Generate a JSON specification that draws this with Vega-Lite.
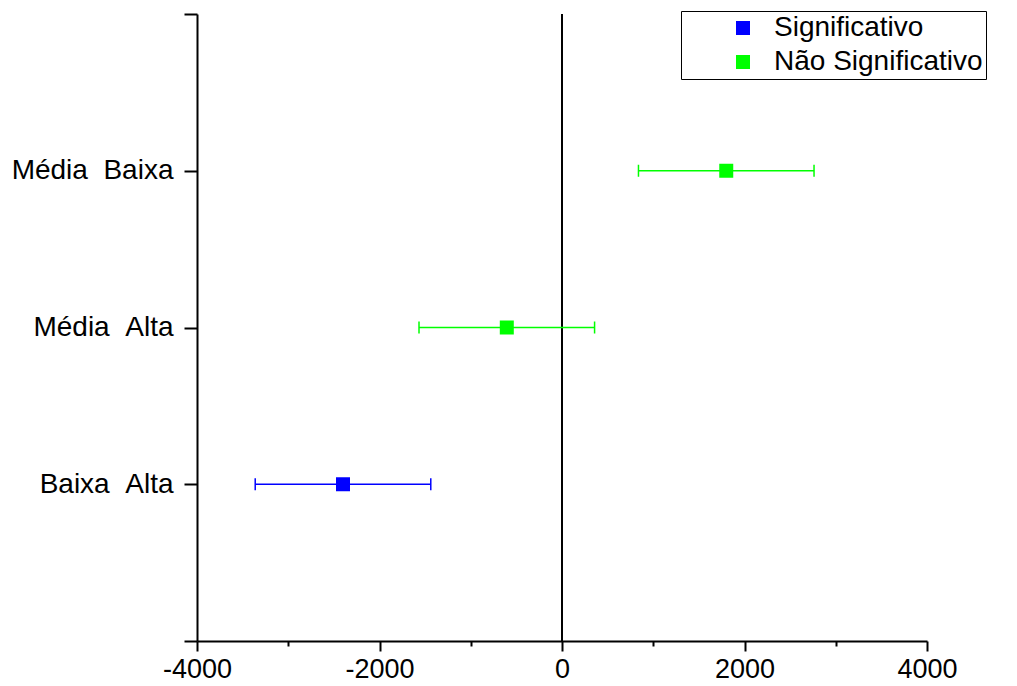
{
  "$schema": "https://vega.github.io/schema/vega-lite/v6.json",
  "autosize": {"type": "none"},
  "padding": {"left": 197, "top": 14, "right": 90, "bottom": 45},
  "width": 730,
  "height": 627,
  "background": "white",
  "config": {
    "view": {"stroke": null},
    "font": "Liberation Sans",
    "axis": {"grid": false, "domainColor": "black", "domainWidth": 2, "tickColor": "black", "tickWidth": 2, "labelColor": "black", "labelFont": "Liberation Sans", "labelFontSize": 27, "title": null}
  },
  "data": {"values": [
    {"grupo": "Média Baixa", "media": 1800, "lo": 838, "hi": 2762, "sig": "Não Significativo"},
    {"grupo": "Média Alta", "media": -605, "lo": -1567, "hi": 357, "sig": "Não Significativo"},
    {"grupo": "Baixa Alta", "media": -2400, "lo": -3362, "hi": -1438, "sig": "Significativo"}
  ]},
  "encoding": {
    "y": {"field": "grupo", "type": "nominal",
      "scale": {"type": "point", "domain": ["", "Média Baixa", "Média Alta", "Baixa Alta", " "], "padding": 0},
      "axis": {"tickSize": 13, "labelPadding": 11, "labelFontSize": 28, "labelExpr": "replace(datum.label, ' ', '\u00a0\u00a0')"}},
    "color": {"field": "sig", "type": "nominal",
      "scale": {"domain": ["Significativo", "Não Significativo"], "range": ["#0000ff", "#00ff00"]},
      "legend": {"orient": "none", "legendX": 484, "legendY": -3, "title": null,
        "strokeColor": "black", "fillColor": "white", "padding": 3,
        "symbolOffset": 45, "labelOffset": 17, "rowPadding": 6,
        "labelFontSize": 28, "labelFont": "Liberation Sans", "labelColor": "black", "labelLimit": 400,
        "symbolType": "square", "symbolSize": 196, "symbolStrokeWidth": 0, "symbolOpacity": 1,
        "labelExpr": "datum.label == 'Significativo' ? datum.label : '\\u00a0' + datum.label + '\\u00a0\\u00a0\\u00a0\\u00a0'"}}
  },
  "layer": [
    {
      "mark": {"type": "rule", "strokeWidth": 2},
      "encoding": {"x": {"datum": 0, "type": "quantitative"}, "y": null, "color": {"value": "black"}}
    },
    {
      "mark": {"type": "point", "shape": "square", "filled": true, "size": 196, "opacity": 1},
      "encoding": {
        "x": {"field": "media", "type": "quantitative",
          "scale": {"domain": [-4000, 4000], "nice": false, "zero": false},
          "axis": {"values": [-4000, -3000, -2000, -1000, 0, 1000, 2000, 3000, 4000],
            "labelExpr": "datum.value % 2000 === 0 ? '' + datum.value : ''",
            "tickSize": {"condition": {"test": "datum.value % 2000 === 0", "value": 10}, "value": 5},
            "labelPadding": 5, "labelFlush": false, "labelOverlap": false}}
      }
    },
    {
      "mark": {"type": "rule", "strokeWidth": 1.5, "opacity": 1},
      "encoding": {
        "x": {"field": "lo", "type": "quantitative"},
        "x2": {"field": "hi"}
      }
    },
    {
      "mark": {"type": "tick", "size": 12, "thickness": 1.5, "opacity": 1},
      "encoding": {
        "x": {"field": "lo", "type": "quantitative"}
      }
    },
    {
      "mark": {"type": "tick", "size": 12, "thickness": 1.5, "opacity": 1},
      "encoding": {
        "x": {"field": "hi", "type": "quantitative"}
      }
    }
  ]
}
